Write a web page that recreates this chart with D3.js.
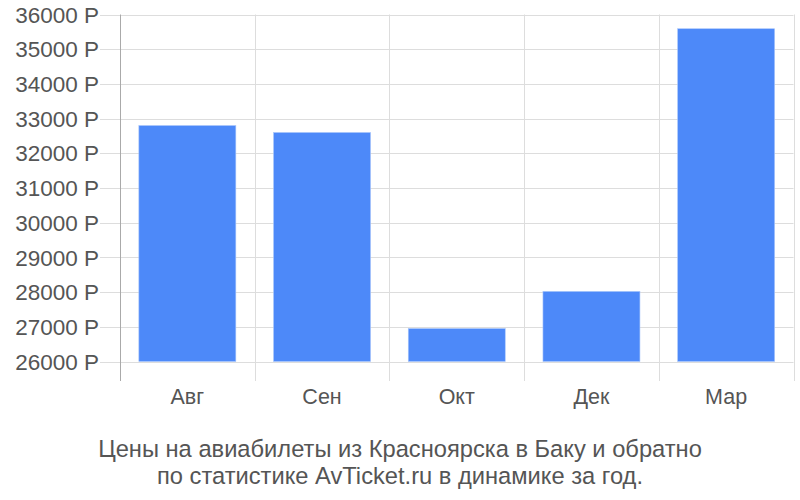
<!DOCTYPE html>
<html><head><meta charset="utf-8">
<script src="https://cdn.jsdelivr.net/npm/d3@7"></script>
<style>body{margin:0;background:#fff}svg{display:block}</style>
</head><body>
<script>
const categories = ["Авг","Сен","Окт","Дек","Мар"];
const values = [32800, 32600, 26950, 28020, 35590];
const yTicks = [26000,27000,28000,29000,30000,31000,32000,33000,34000,35000,36000];
const titleLines = ["Цены на авиабилеты из Красноярска в Баку и обратно","по статистике AvTicket.ru в динамике за год."];

const W=800,H=500;
const svg=d3.select("body").append("svg").attr("width",W).attr("height",H);
const font="'Liberation Sans', Arial, sans-serif";
const x=d3.scaleBand().domain(categories).range([120,793.5]).padding(0);
const y=d3.scaleLinear().domain([26000,36000]).range([361.5,14.5]);
const axisBottom=381;

// horizontal grid + tick stubs
svg.append("g").selectAll("line").data(yTicks).join("line")
  .attr("x1",100).attr("x2",793.5).attr("y1",d=>Math.round(y(d))+0.5).attr("y2",d=>Math.round(y(d))+0.5)
  .attr("stroke","#dddddd").attr("stroke-width",1);
// vertical grid
const bounds=categories.map(c=>x(c)).concat([x.range()[1]]);
svg.append("g").selectAll("line").data(bounds.slice(1)).join("line")
  .attr("x1",d=>Math.round(d)+0.5).attr("x2",d=>Math.round(d)+0.5).attr("y1",14.5).attr("y2",axisBottom)
  .attr("stroke","#dddddd");
// left axis line
svg.append("line").attr("x1",120.5).attr("x2",120.5).attr("y1",14.5).attr("y2",axisBottom)
  .attr("stroke","#aaaaaa");

// bars
const bw=x.step()*0.72, off=(x.step()-bw)/2;
svg.append("g").selectAll("rect").data(values).join("rect")
  .attr("x",(d,i)=>x(categories[i])+off).attr("width",bw)
  .attr("y",d=>y(d)).attr("height",d=>y(26000)-y(d))
  .attr("fill","#4d89f9").attr("stroke","#a9c6fb").attr("stroke-width",0.6);

// y labels
svg.append("g").selectAll("text").data(yTicks).join("text")
  .attr("x",99).attr("y",d=>y(d)).attr("dy","0.36em").attr("text-anchor","end")
  .attr("font-family",font).attr("font-size",22.5).attr("fill","#555")
  .text(d=>d+" Р");
// x labels
svg.append("g").selectAll("text").data(categories).join("text")
  .attr("x",d=>x(d)+x.bandwidth()/2).attr("y",404).attr("text-anchor","middle")
  .attr("font-family",font).attr("font-size",21.5).attr("fill","#555").text(d=>d);
// title
svg.append("g").selectAll("text").data(titleLines).join("text")
  .attr("x",400).attr("y",(d,i)=>457+i*27).attr("text-anchor","middle")
  .attr("font-family",font).attr("font-size",23.7).attr("fill","#555").text(d=>d);
</script>
</body></html>
